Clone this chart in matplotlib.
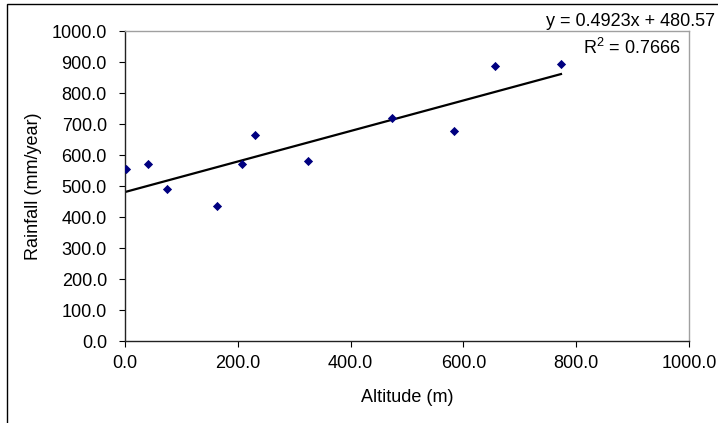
import matplotlib
matplotlib.use("Agg")
import matplotlib.pyplot as plt
from matplotlib.patches import Rectangle
import numpy as np

plt.rcParams['font.family'] = ['Liberation Sans', 'DejaVu Sans']
plt.rcParams['mathtext.fontset'] = 'custom'
plt.rcParams['mathtext.rm'] = 'Liberation Sans'
plt.rcParams['mathtext.it'] = 'Liberation Sans'

# Data
altitude = [1, 41, 75, 163, 208, 230, 325, 473, 584, 656, 773]
rainfall = [555, 570, 491, 435, 570, 663, 582, 720, 678, 888, 892]
slope = 0.4923
intercept = 480.57
r_squared = 0.7666
x_ticks = [0, 200, 400, 600, 800, 1000]
y_ticks = [0, 100, 200, 300, 400, 500, 600, 700, 800, 900, 1000]

W, H = 718, 423
fig = plt.figure(figsize=(W / 100, H / 100), dpi=100)
ax = fig.add_axes([125 / W, 1 - 341 / H, (689 - 125) / W, (341 - 31) / H])

# outer chart frame (cut at right/bottom)
fig.patches.append(Rectangle((7 / W, -0.1), 1.2, 1 - 4 / H + 0.1, transform=fig.transFigure,
                             fill=False, edgecolor='black', linewidth=1.0))

ax.scatter(altitude, rainfall, marker='D', s=22, color='#000080', zorder=3, linewidths=0)
xl = np.array([min(altitude), max(altitude)])
ax.plot(xl, slope * xl + intercept, color='black', linewidth=1.6, zorder=2)

ax.set_xlim(0, 1000)
ax.set_ylim(0, 1000)
ax.set_xticks(x_ticks)
ax.set_yticks(y_ticks)
ax.set_xticklabels([f"{v:.1f}" for v in x_ticks])
ax.set_yticklabels([f"{v:.1f}" for v in y_ticks])
ax.tick_params(direction='out', length=4, width=0.8, color='black', labelsize=13)
ax.tick_params(axis='y', pad=9)
ax.tick_params(axis='x', pad=6)

for s in ['left', 'bottom']:
    ax.spines[s].set_color('#222222')
    ax.spines[s].set_linewidth(1.0)
for s in ['top', 'right']:
    ax.spines[s].set_color('#a0a0a0')
    ax.spines[s].set_linewidth(1.0)

ax.set_xlabel('Altitude (m)', fontsize=13)
ax.set_ylabel('Rainfall (mm/year)', fontsize=13)
ax.xaxis.set_label_coords(0.5, (341 - 389) / 310)
ax.yaxis.set_label_coords((42 - 125) / 564, 0.5)

fig.text(630.5 / W, 1 - 21 / H, f"y = {slope}x + {intercept}", ha='center', va='center', fontsize=13)
fig.text(631.5 / W, 1 - 48 / H, f"R$^2$ = {r_squared}", ha='center', va='center', fontsize=13)

fig.savefig('out.png', dpi=100)
